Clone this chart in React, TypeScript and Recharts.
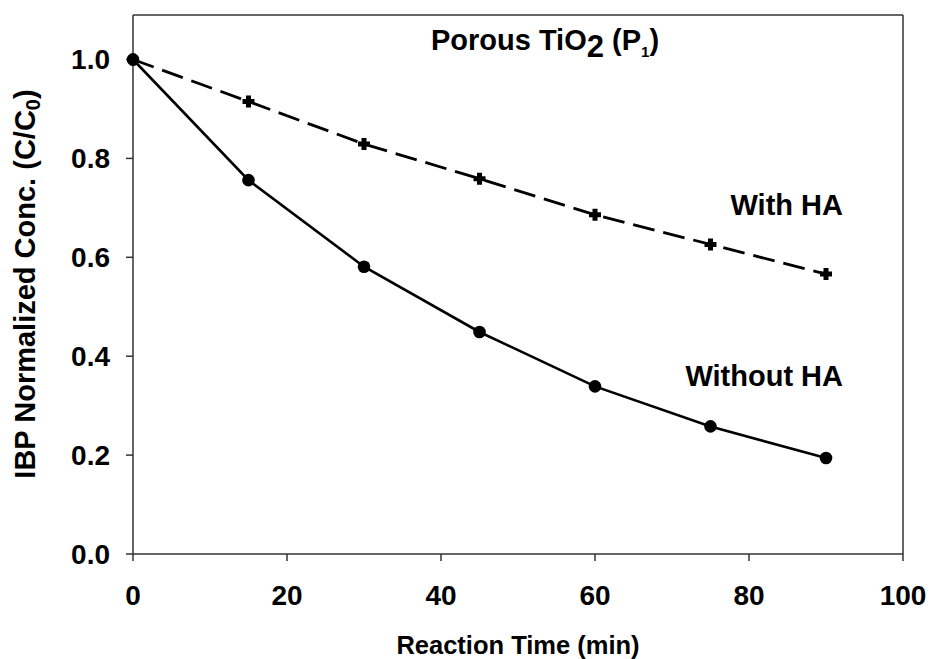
import { Line, LineChart, ReferenceLine, XAxis, YAxis } from 'recharts'

// reaction time in minutes and normalized IBP concentration C/C0
const timeMin = [0, 15, 30, 45, 60, 75, 90]
const withoutHA = [1.0, 0.756, 0.581, 0.449, 0.339, 0.258, 0.194]
const withHA = [1.0, 0.915, 0.829, 0.759, 0.686, 0.626, 0.566]

const xTicks = [0, 20, 40, 60, 80, 100]
const yTicks = [0, 0.2, 0.4, 0.6, 0.8, 1.0]
const Y_MAX = 1.09

const FONT = '"Liberation Sans", Arial, Helvetica, sans-serif'
const AXIS = '#333'

const rows = timeMin.map((t, i) => ({
  t,
  without: withoutHA[i],
  with: withHA[i],
}))

type DotProps = { cx?: number; cy?: number; index?: number }

const CircleDot = ({ cx, cy, index }: DotProps) => {
  if (cx == null || cy == null) return null
  return <circle key={`c-${index}`} cx={cx} cy={cy} r={6.3} fill="#000" />
}

// chunky plus marker for the HA series
const PlusDot = ({ cx, cy, index }: DotProps) => {
  if (cx == null || cy == null) return null
  const a = 6
  const b = 2.5
  const d = `M${cx - b},${cy - a}H${cx + b}V${cy - b}H${cx + a}V${cy + b}H${cx + b}V${cy + a}H${cx - b}V${cy + b}H${cx - a}V${cy - b}H${cx - b}Z`
  return <path key={`p-${index}`} d={d} fill="#000" />
}

const textStyle = { fontFamily: FONT, fontWeight: 700, fill: '#000' }

export default function App() {
  return (
    <div style={{ width: 931, height: 659, background: '#fff' }}>
      <style>{'body{margin:0}'}</style>
      <LineChart
        width={931}
        height={659}
        data={rows}
        margin={{ top: 15, right: 28, bottom: 0, left: 0 }}
      >
        <XAxis
          dataKey="t"
          type="number"
          domain={[0, 100]}
          ticks={xTicks}
          height={105}
          tickSize={7}
          tickMargin={24}
          axisLine={{ stroke: AXIS, strokeWidth: 1.5 }}
          tickLine={{ stroke: AXIS, strokeWidth: 1.5 }}
          tick={{ fontSize: 28, fontFamily: FONT, fontWeight: 700, fill: '#000' }}
        />
        <YAxis
          type="number"
          domain={[0, Y_MAX]}
          ticks={yTicks}
          width={133}
          tickSize={7}
          tickMargin={16}
          tickFormatter={(v: number) => v.toFixed(1)}
          axisLine={{ stroke: AXIS, strokeWidth: 1.5 }}
          tickLine={{ stroke: AXIS, strokeWidth: 1.5 }}
          tick={{ fontSize: 28, fontFamily: FONT, fontWeight: 700, fill: '#000' }}
        />
        {/* frame: top and right edges */}
        <ReferenceLine y={Y_MAX} stroke={AXIS} strokeWidth={1.5} />
        <ReferenceLine x={100} stroke={AXIS} strokeWidth={1.5} />

        <Line
          dataKey="with"
          stroke="#000"
          strokeWidth={2.8}
          strokeDasharray="22 9"
          dot={PlusDot}
          activeDot={false}
          isAnimationActive={false}
        />
        <Line
          dataKey="without"
          stroke="#000"
          strokeWidth={2.6}
          dot={CircleDot}
          activeDot={false}
          isAnimationActive={false}
        />

        <text x={545} y={50} textAnchor="middle" fontSize={29} style={textStyle}>
          Porous TiO
          <tspan fontSize={31} dy={7}>2</tspan>
          <tspan dy={-7}> (P</tspan>
          <tspan fontSize={15} dy={7}>1</tspan>
          <tspan dy={-7}>)</tspan>
        </text>
        <text x={843} y={215} textAnchor="end" fontSize={29} style={textStyle}>
          With HA
        </text>
        <text x={843} y={386} textAnchor="end" fontSize={29} style={textStyle}>
          Without HA
        </text>
        <text x={518} y={654} textAnchor="middle" fontSize={25.5} style={textStyle}>
          Reaction Time (min)
        </text>
        <text
          x={35}
          y={284}
          textAnchor="middle"
          fontSize={29}
          transform="rotate(-90 35 284)"
          style={textStyle}
        >
          IBP Normalized Conc. (C/C
          <tspan fontSize={20} dy={5}>0</tspan>
          <tspan dy={-5}>)</tspan>
        </text>
      </LineChart>
    </div>
  )
}
